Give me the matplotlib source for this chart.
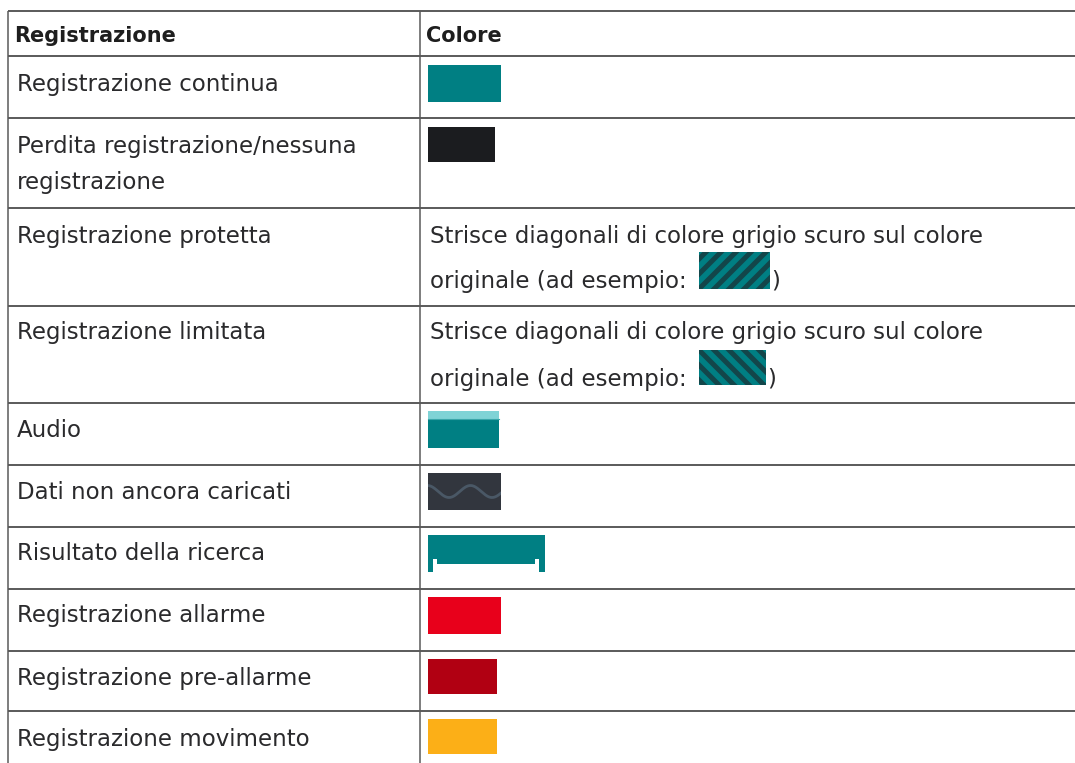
import numpy as np
import matplotlib
matplotlib.use("Agg")
import matplotlib.pyplot as plt
from matplotlib.patches import Rectangle

plt.rcParams['font.family'] = ['DejaVu Sans']

# table content
headers = ["Registrazione", "Colore"]
labels = [
    ["Registrazione continua"],
    ["Perdita registrazione/nessuna", "registrazione"],
    ["Registrazione protetta"],
    ["Registrazione limitata"],
    ["Audio"],
    ["Dati non ancora caricati"],
    ["Risultato della ricerca"],
    ["Registrazione allarme"],
    ["Registrazione pre-allarme"],
    ["Registrazione movimento"],
]
descr = [None, None,
         ["Strisce diagonali di colore grigio scuro sul colore", "originale (ad esempio:"],
         ["Strisce diagonali di colore grigio scuro sul colore", "originale (ad esempio:"],
         None, None, None, None, None, None]
kinds = ["solid", "solid", "hatch_up", "hatch_down", "audio", "wave", "search",
         "solid", "solid", "solid"]
colors = ["#007f83", "#1b1c1f", "#007f83", "#007f83", "#007f83", "#32363e",
          "#007f83", "#e8001b", "#b10012", "#fcaf17"]

# layout (pixels)
W, H = 1075, 763
row_lines = [11, 56, 118, 208, 306, 403, 465, 527, 589, 651, 711]
col_x = [8, 420]
left_base = [[91], [153, 189], [243], [339], [437], [499], [560], [622], [685], [746]]
right_base = [None, None, [243, 288], [339, 386], None, None, None, None, None, None]
# swatch boxes: x0, y0, x1, y1
boxes = [(428, 65, 501, 102), (428, 127, 495, 162), (699, 252, 770, 289),
         (699, 350, 766, 385), (428, 411, 499, 448), (428, 473, 501, 510),
         (428, 535, 545, 572), (428, 597, 501, 634), (428, 659, 497, 694),
         (428, 719, 497, 754)]

fig = plt.figure(figsize=(W / 100, H / 100), dpi=100)
ax = fig.add_axes([0, 0, 1, 1])
ax.set_xlim(0, W)
ax.set_ylim(H, 0)
ax.axis('off')

line_c = "#5a5a5a"
for y in row_lines:
    ax.plot([col_x[0], W], [y, y], color=line_c, lw=1.4, solid_capstyle='butt')
for x in col_x:
    ax.plot([x, x], [row_lines[0], H], color=line_c, lw=1.1, solid_capstyle='butt')

fs = 16.5
txt_c = "#2a2a2c"
ax.text(14, 42, headers[0], fontsize=15, fontweight='bold', color="#1e1e1e", va='baseline')
ax.text(426, 42, headers[1], fontsize=15, fontweight='bold', color="#1e1e1e", va='baseline')

for i, lines in enumerate(labels):
    for ln, yb in zip(lines, left_base[i]):
        ax.text(17, yb, ln, fontsize=fs, color=txt_c, va='baseline')
    if descr[i] is not None:
        for ln, yb in zip(descr[i], right_base[i]):
            ax.text(430, yb, ln, fontsize=fs, color=txt_c, va='baseline')
        ax.text(boxes[i][2] + 1, right_base[i][1], ")", fontsize=fs, color=txt_c, va='baseline')

for i, kind in enumerate(kinds):
    x0, y0, x1, y1 = boxes[i]
    w, h = x1 - x0, y1 - y0
    rect = Rectangle((x0, y0), w, h, facecolor=colors[i], edgecolor='none')
    ax.add_patch(rect)
    if kind in ("hatch_up", "hatch_down"):
        for k in np.arange(-60, 120, 15):
            xs = [x0 + k, x0 + k + h]
            ys = [y1, y0] if kind == "hatch_up" else [y0, y1]
            l, = ax.plot(xs, ys, color="#1a3338", lw=3.6, alpha=0.75)
            l.set_clip_path(rect)
    elif kind == "audio":
        ax.add_patch(Rectangle((x0, y0), w, 8, facecolor="#7fd3d6", edgecolor='none'))
        ax.plot([x0, x1], [y0 + 8, y0 + 8], color="#3aa6aa", lw=0.8)
    elif kind == "wave":
        t = np.linspace(x0, x1, 200)
        l, = ax.plot(t, (y0 + y1) / 2 + 6 * np.sin(2 * np.pi * (t - 449) / 43 + np.pi / 2),
                     color="#4a5866", lw=2.0)
        l.set_clip_path(rect)
    elif kind == "search":
        for (rx, ry, rw, rh) in [(x0 + 5, y1 - 8, w - 11, 8), (x0 + 5, y1 - 13, 4, 13),
                                 (x1 - 10, y1 - 13, 4, 13)]:
            ax.add_patch(Rectangle((rx, ry), rw, rh, facecolor="white", edgecolor='none'))

fig.savefig("out.png", dpi=100, facecolor="white")
